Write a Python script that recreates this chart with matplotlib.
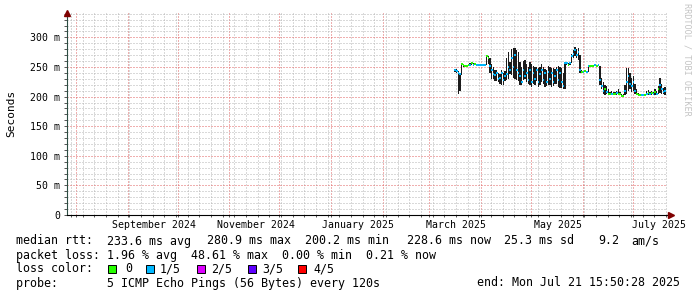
import datetime as dt
import matplotlib
matplotlib.use("Agg")
import matplotlib.pyplot as plt
import matplotlib.dates as mdates
from matplotlib.patches import Rectangle
from matplotlib.lines import Line2D
from matplotlib.transforms import blended_transform_factory

plt.rcParams["font.family"] = ["DejaVu Sans Mono"]

# time range of the graph (last 360 days)
end_time = dt.datetime(2025, 7, 21, 15, 50, 28)
start_time = end_time - dt.timedelta(days=360)
first_day = dt.datetime(2025, 3, 16)

# one value per day, in ms
median_ms = [245, 243, 240, 238, 255, 253, 252, 252, 253, 254,
             256, 254, 255, 253, 253, 253, 253, 253, 253, 268,
             266, 252, 245, 238, 236, 240, 230, 232, 240, 228,
             235, 238, 250, 245, 265, 250, 270, 245, 240, 235,
             225, 245, 235, 240, 228, 245, 225, 240, 230, 245,
             225, 238, 245, 228, 240, 225, 242, 230, 240, 225,
             235, 245, 228, 240, 225, 218, 257, 256, 254, 256,
             268, 272, 278, 270, 275, 245, 242, 242, 243, 242,
             251, 252, 252, 252, 253, 252, 253, 228, 218, 210,
             212, 208, 205, 204, 205, 204, 204, 206, 205, 204,
             201, 201, 210, 225, 235, 222, 218, 225, 210, 205,
             203, 203, 203, 203, 203, 205, 206, 204, 206, 204,
             207, 205, 212, 220, 212, 208, 210]
smoke_lo = [242, 240, 204, 210, 236, 250, 250, 250, 251, 252,
            253, 252, 253, 252, 252, 252, 252, 252, 252, 253,
            255, 240, 230, 230, 226, 226, 224, 222, 220, 219,
            226, 228, 230, 238, 236, 232, 230, 228, 226, 220,
            219, 228, 230, 224, 222, 220, 216, 222, 219, 226,
            216, 220, 224, 222, 216, 218, 220, 219, 216, 218,
            222, 222, 216, 214, 215, 212, 212, 254, 252, 253,
            256, 265, 268, 265, 262, 240, 240, 240, 241, 240,
            242, 250, 250, 250, 251, 250, 251, 220, 212, 205,
            203, 204, 202, 202, 202, 202, 202, 203, 202, 202,
            200, 200, 202, 204, 210, 212, 208, 210, 205, 202,
            202, 202, 202, 202, 202, 202, 203, 202, 203, 202,
            203, 202, 204, 206, 205, 204, 203]
smoke_hi = [247, 246, 243, 240, 257, 255, 254, 254, 255, 256,
            258, 256, 257, 255, 255, 255, 255, 255, 255, 270,
            268, 266, 255, 250, 245, 245, 240, 238, 245, 240,
            243, 265, 276, 258, 281, 282, 282, 278, 275, 258,
            250, 260, 261, 255, 250, 258, 255, 252, 250, 250,
            248, 250, 255, 250, 247, 245, 252, 250, 248, 248,
            247, 250, 252, 250, 248, 240, 258, 258, 256, 258,
            272, 278, 284, 280, 282, 270, 245, 244, 245, 244,
            253, 254, 254, 254, 255, 254, 255, 252, 232, 225,
            220, 218, 212, 208, 210, 208, 207, 210, 212, 208,
            205, 205, 220, 248, 248, 240, 232, 235, 222, 212,
            206, 205, 205, 205, 205, 210, 211, 208, 210, 208,
            212, 209, 218, 232, 222, 214, 216]
# lost pings per day (0 or 1 of 5)
loss = [1, 1, 1, 1, 0, 0, 0, 0, 0, 1,
        0, 1, 0, 1, 1, 1, 1, 1, 1, 0,
        0, 1, 1, 1, 1, 1, 1, 1, 1, 1,
        1, 1, 1, 1, 1, 1, 1, 1, 1, 1,
        1, 1, 1, 1, 1, 1, 1, 1, 1, 1,
        1, 1, 1, 1, 1, 1, 1, 1, 1, 1,
        1, 1, 1, 1, 1, 1, 1, 1, 0, 1,
        1, 1, 1, 1, 1, 1, 0, 1, 0, 1,
        1, 0, 0, 0, 1, 0, 1, 1, 1, 1,
        0, 1, 0, 0, 1, 0, 0, 1, 0, 0,
        0, 0, 1, 1, 1, 1, 1, 1, 1, 0,
        0, 0, 1, 1, 0, 1, 0, 1, 0, 1,
        0, 1, 0, 1, 1, 1, 1]

loss_colors = ["#26ff00", "#00b8ff", "#dd00ff", "#5e00ff", "#ff0000"]
loss_labels = ["0", "1/5", "2/5", "3/5", "4/5"]

y_major = [0, 50, 100, 150, 200, 250, 300]
y_labels = ["0", "50 m", "100 m", "150 m", "200 m", "250 m", "300 m"]
x_labels = [(dt.datetime(2024, 9, 1), "September 2024"),
            (dt.datetime(2024, 11, 1), "November 2024"),
            (dt.datetime(2025, 1, 1), "January 2025"),
            (dt.datetime(2025, 3, 1), "March 2025"),
            (dt.datetime(2025, 5, 1), "May 2025"),
            (dt.datetime(2025, 7, 1), "July 2025")]

# legend text pieces: (x px, y px, text)
legend_text = [
    (16, 241, "median rtt:"), (107, 241, "233.6 ms avg"), (207, 241, "280.9 ms max"),
    (305, 241, "200.2 ms min"), (407, 241, "228.6 ms now"), (504, 241, "25.3 ms sd"),
    (598, 241, "9.2"), (631, 241, "am/s"),
    (16, 255, "packet loss: 1.96 % avg  48.61 % max  0.00 % min  0.21 % now"),
    (16, 269, "loss color:"),
    (16, 283, "probe:       5 ICMP Echo Pings (56 Bytes) every 120s"),
]
box_x = [108, 146, 197, 248, 298]
box_text_x = [125, 160, 211, 262, 313]

W, H = 697, 297
fig = plt.figure(figsize=(W / 100, H / 100), dpi=100)
fig.patch.set_facecolor("white")
ax = fig.add_axes([67 / W, (H - 215) / H, 600 / W, 202.5 / H])

days = [mdates.date2num(first_day + dt.timedelta(days=i)) for i in range(len(median_ms))]

# smoke
heights = [h - l for h, l in zip(smoke_hi, smoke_lo)]
ax.bar(days, heights, bottom=smoke_lo, width=0.85, align="edge", color="#1c1c1c", lw=0, zorder=3)
# median, coloured by loss
ax.hlines(median_ms, days, [d + 1 for d in days],
          colors=[loss_colors[l] for l in loss], lw=1.4, zorder=4)

ax.set_xlim(mdates.date2num(start_time), mdates.date2num(end_time))
ax.set_ylim(0, 342)

# grid
ax.set_yticks(y_major)
ax.set_yticklabels(y_labels)
ax.set_yticks(range(0, 350, 10), minor=True)
ax.xaxis.set_major_locator(mdates.MonthLocator())
ax.xaxis.set_minor_locator(mdates.WeekdayLocator(byweekday=mdates.MO))
ax.xaxis.set_major_formatter(plt.NullFormatter())
ax.set_axisbelow(True)
ax.grid(True, which="major", color="#e06060", ls=(0, (1, 2)), lw=0.72)
ax.grid(True, which="minor", color="#b4b4b4", ls=(0, (1, 2)), lw=0.72)
ax.tick_params(axis="y", which="both", labelsize=7.1, length=2.2, width=0.7,
               color="#555555", pad=2.9)
ax.tick_params(axis="x", which="both", length=1.5, width=0.7, color="#555555")

for s in ["top", "right"]:
    ax.spines[s].set_visible(False)
ax.spines["left"].set_color("#2c4d43")
ax.spines["bottom"].set_color("#000000")
ax.spines["left"].set_linewidth(0.8)
ax.spines["bottom"].set_linewidth(0.8)

# axis arrows
ax.add_line(Line2D([1.0, 1.007], [0, 0], transform=ax.transAxes, color="black",
                   lw=0.8, clip_on=False))
ax.plot([1.007], [0], marker=">", ms=4.5, color="#7f0000", transform=ax.transAxes,
        clip_on=False, zorder=6)
ax.plot([0], [1.0], marker="^", ms=4.5, color="#7f0000", transform=ax.transAxes,
        clip_on=False, zorder=6)

# month labels
trans = blended_transform_factory(ax.transData, ax.transAxes)
for d, lab in x_labels:
    ax.text(mdates.date2num(d + dt.timedelta(days=16)), -0.047, lab, transform=trans,
            ha="center", va="center", fontsize=7.1)

fig.text(11 / W, 1 - 113.5 / H, "Seconds", rotation=90, ha="center", va="center",
         fontsize=8)
fig.text(687 / W, 1 - 59 / H, "RRDTOOL / TOBI OETIKER", rotation=270, ha="center",
         va="center", fontsize=6.1, color="#c4c4c4")

# legend
for x, y, s in legend_text:
    fig.text(x / W, 1 - y / H, s, ha="left", va="center", fontsize=8.35)
fig.text(680 / W, 1 - 283 / H, "end: Mon Jul 21 15:50:28 2025", ha="right",
         va="center", fontsize=8.35)
for bx, tx, col, lab in zip(box_x, box_text_x, loss_colors, loss_labels):
    fig.add_artist(Rectangle((bx / W, 1 - 273 / H), 8 / W, 8.5 / H,
                             transform=fig.transFigure, facecolor=col,
                             edgecolor="black", lw=0.7))
    fig.text(tx / W, 1 - 269 / H, lab, ha="left", va="center", fontsize=8.35)

fig.savefig("out.png", dpi=100)
